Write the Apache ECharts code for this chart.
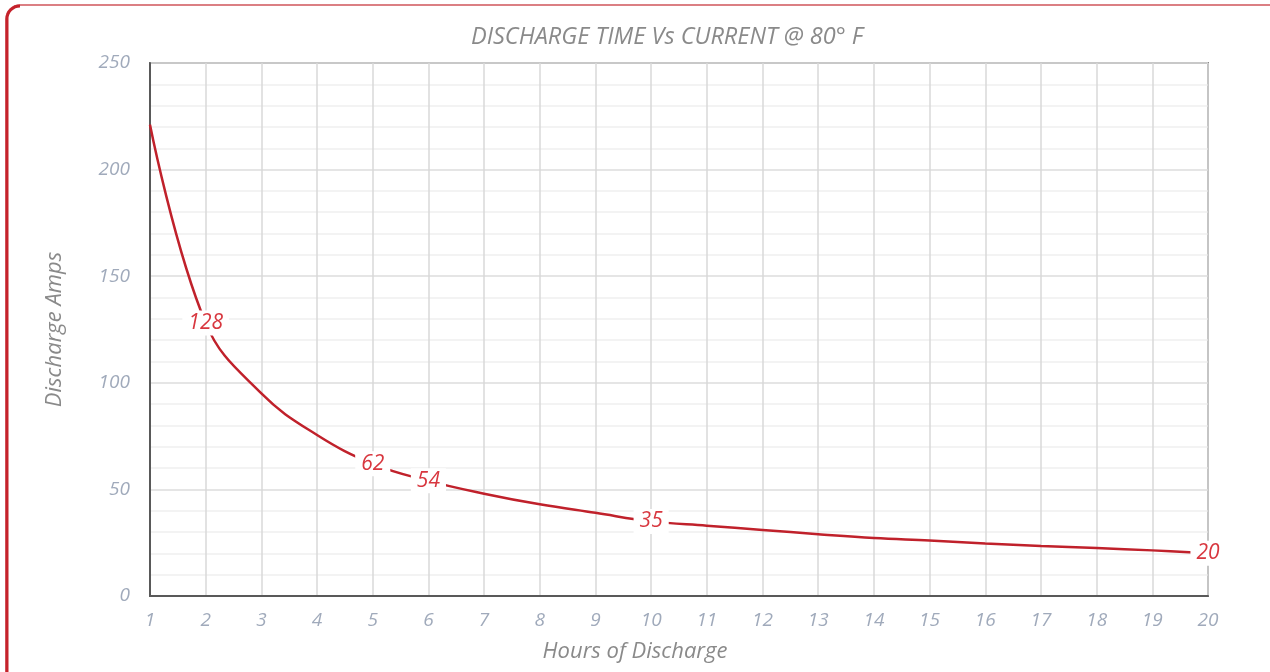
<!DOCTYPE html>
<html><head><meta charset="utf-8">
<script src="https://cdn.jsdelivr.net/npm/echarts@6/dist/echarts.min.js"></script>
<style>html,body{margin:0;padding:0;background:#fff}#c{width:1270px;height:672px}</style>
</head><body><div id="c"></div>
<script>
const hours = [1,2,3,4,5,6,7,8,9,10,11,12,13,14,15,16,17,18,19,20];
const amps  = [221,128,95,75.5,62,54,48,43,39,35,33,31,29,27.2,26,24.6,23.5,22.5,21.4,20];
const labeledHours = [2,5,6,10,20];
const titleText = 'DISCHARGE TIME Vs CURRENT @ 80° F';
const xName = 'Hours of Discharge';
const yName = 'Discharge Amps';

const FONT = '"Open Sans", "Noto Sans", sans-serif';
const chart = echarts.init(document.getElementById('c'));
const data = hours.map((h,i)=>({
  value:[h, amps[i]],
  label:{show: labeledHours.includes(h)}
}));
chart.setOption({
  animation:false,
  title:{text:titleText,left:662,top:21,textAlign:'center',
    textStyle:{fontFamily:FONT,fontStyle:'italic',fontWeight:'normal',fontSize:23.5,color:'#8a8a8a'}},
  graphic:[
    {type:'rect',shape:{x:6,y:5,width:1280,height:720,r:14},
      style:{fill:'none',stroke:'#d0555b',lineWidth:1.5},z:-1},
    {type:'arc',shape:{cx:20,cy:19,r:13,startAngle:Math.PI,endAngle:Math.PI*1.5,clockwise:true},
      style:{fill:'none',stroke:'#c5222b',lineWidth:3},z:-1},
    {type:'line',shape:{x1:7,y1:19,x2:7,y2:700},
      style:{stroke:'#c5222b',lineWidth:3},z:-1}
  ],
  grid:{left:150,right:62,top:63,bottom:76,show:true,borderColor:'#8a8a8a',borderWidth:2},
  xAxis:{type:'value',min:1,max:20,interval:1,
    name:xName,nameLocation:'middle',nameGap:45,
    nameTextStyle:{fontFamily:FONT,fontStyle:'italic',fontSize:22,color:'#8a8a8a',padding:[0,88,0,0]},
    axisLine:{show:true,lineStyle:{color:'#595959',width:2}},
    axisTick:{show:false},
    axisLabel:{fontFamily:FONT,fontStyle:'italic',fontSize:19,color:'#a0aabb',margin:15},
    splitLine:{show:true,lineStyle:{color:'#d9d9d9',width:1.5}}},
  yAxis:{type:'value',min:0,max:250,interval:50,
    name:yName,nameLocation:'middle',nameGap:84,nameRotate:90,
    nameTextStyle:{fontFamily:FONT,fontStyle:'italic',fontSize:22,color:'#8a8a8a'},
    axisLine:{show:true,lineStyle:{color:'#595959',width:2}},
    axisTick:{show:false},
    axisLabel:{fontFamily:FONT,fontStyle:'italic',fontSize:19,color:'#a0aabb',margin:20},
    splitLine:{show:true,lineStyle:{color:'#dcdcdc',width:1.5}},
    minorTick:{show:false,splitNumber:5},
    minorSplitLine:{show:true,lineStyle:{color:'#efefef',width:1.5}}},
  series:[{type:'line',data:data,smooth:0.4,showSymbol:true,symbol:'circle',symbolSize:1,
    itemStyle:{color:'#c0212b'},
    lineStyle:{color:'#c0212b',width:2.5},
    label:{show:true,position:'inside',formatter:p=>String(p.value[1]),
      fontFamily:FONT,fontStyle:'italic',fontSize:21,color:'#d8373f',
      backgroundColor:'#ffffff',padding:[2,6,2,6]},
    labelLayout:{hideOverlap:false}}]
});
</script></body></html>
